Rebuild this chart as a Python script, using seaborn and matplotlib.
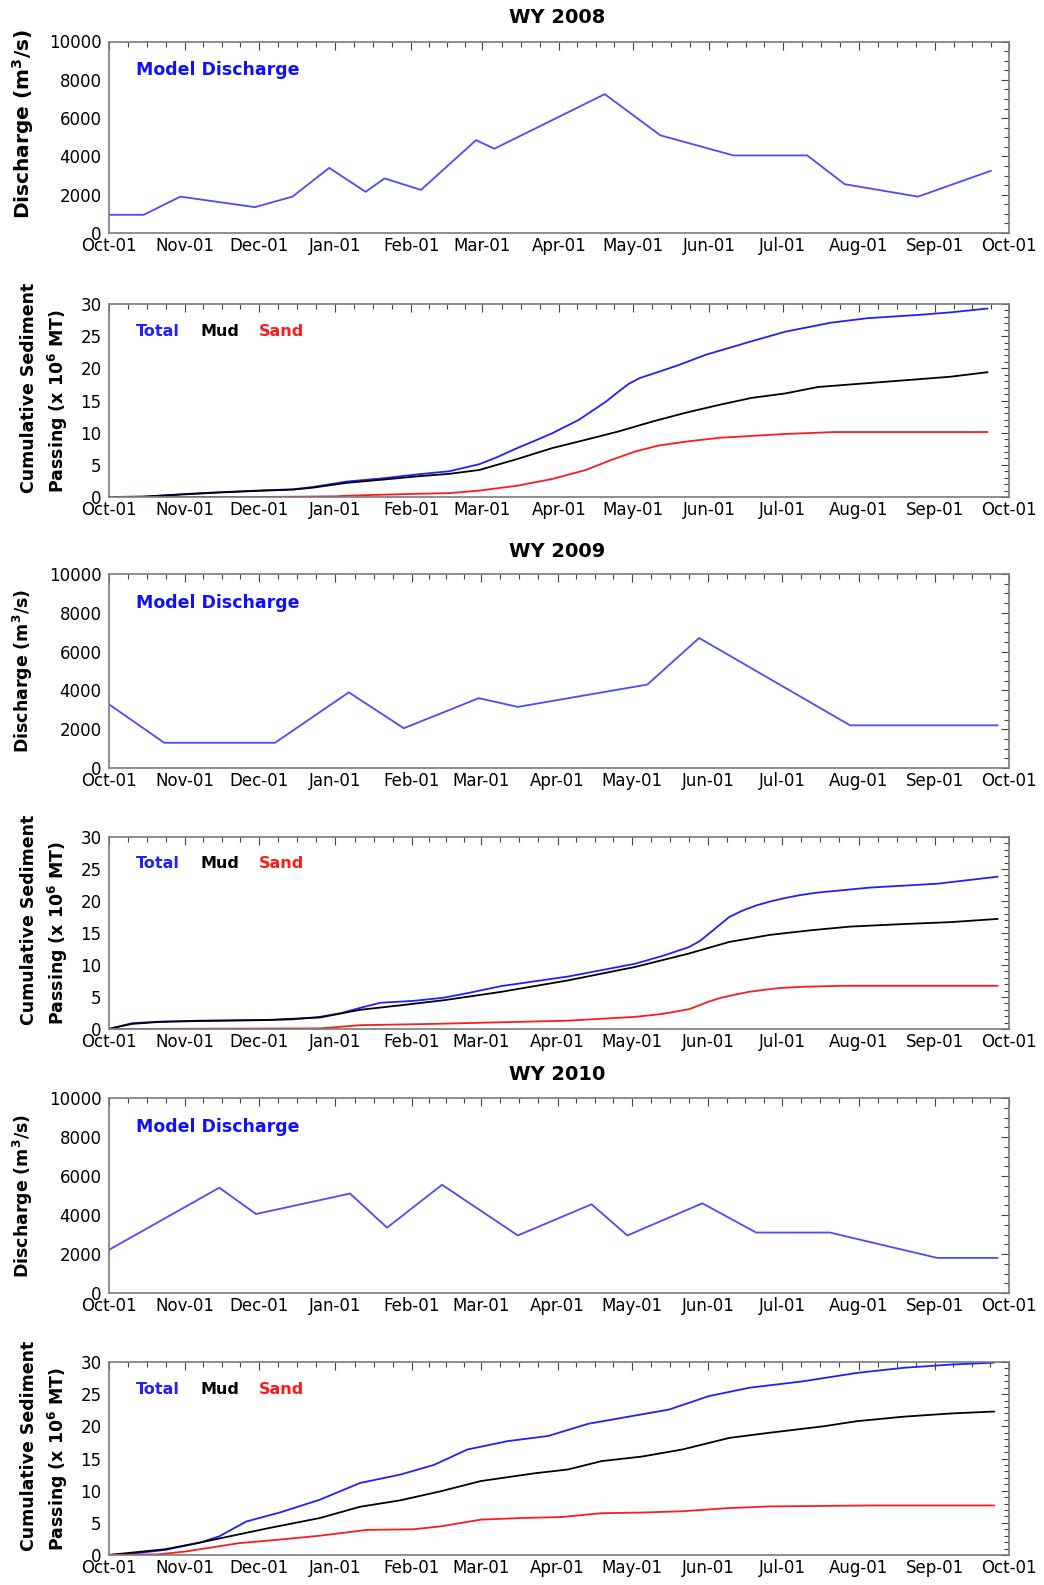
import numpy as np
import pandas as pd
import matplotlib
matplotlib.use("Agg")
import matplotlib.pyplot as plt
import matplotlib.dates as mdates
from matplotlib.ticker import MultipleLocator, FixedLocator
import seaborn as sns

# ---------------- data (day offsets from Oct 1 of each water year) ----------------
wy_names = ["WY 2008", "WY 2009", "WY 2010"]
wy_starts = ["2007-10-01", "2008-10-01", "2009-10-01"]

# Model discharge (m3/s)
q08_day = [0, 14.3, 29.2, 59.5, 74.8, 89.7, 104.5, 112.2, 127, 149.4, 156.8, 201.7, 224.3, 254, 284, 299.2, 329, 358.7]
q08_val = [950, 950, 1900, 1350, 1900, 3400, 2150, 2850, 2250, 4850, 4400, 7250, 5100, 4050, 4050, 2550, 1900, 3250]
q09_day = [0, 22.6, 67.5, 97.4, 119.7, 150.1, 165.9, 218.4, 239.4, 300.6, 360.4]
q09_val = [3300, 1300, 1300, 3900, 2050, 3600, 3150, 4300, 6700, 2200, 2200]
q10_day = [0, 44.9, 59.8, 97.9, 112.9, 135.2, 165.9, 195.8, 210.3, 240.7, 262.5, 292.4, 335.9, 360.4]
q10_val = [2200, 5400, 4050, 5100, 3350, 5550, 2950, 4550, 2950, 4600, 3100, 3100, 1800, 1800]

# Cumulative sediment (x 1e6 MT)
tot08_day = [0, 14.2, 30.4, 45.4, 60.4, 75, 83, 96.8, 111.4, 125.2, 138.5, 150.7, 158, 166.1, 173, 180.3, 191.2,
             202.1, 207, 211.5, 216, 220.8, 231.7, 242.7, 261.3, 275.1, 293.7, 308.7, 329, 342.3, 357.3]
tot08_val = [0, 0.05, 0.45, 0.75, 1.0, 1.2, 1.55, 2.4, 2.9, 3.5, 4.0, 5.1, 6.2, 7.6, 8.7, 9.9, 12.0,
             14.8, 16.3, 17.6, 18.5, 19.1, 20.5, 22.1, 24.2, 25.7, 27.1, 27.8, 28.3, 28.7, 29.3]
mud08_day = [0, 14.2, 30.4, 45.4, 60.4, 75, 83, 96.8, 111.4, 125.2, 138.5, 150.7, 166.1, 180.3, 194,
             207.4, 220.8, 234.6, 248, 261.3, 275.1, 288.4, 301.8, 329, 342.3, 357.3]
mud08_val = [0, 0.05, 0.4, 0.7, 0.95, 1.15, 1.45, 2.2, 2.7, 3.2, 3.6, 4.2, 5.9, 7.6, 8.9,
             10.2, 11.7, 13.1, 14.3, 15.4, 16.1, 17.1, 17.5, 18.3, 18.7, 19.4]
snd08_day = [0, 60, 92, 96.8, 125.2, 138.5, 150.7, 166.1, 180.3, 194, 204.6, 214.3, 223.6, 234.6,
             248, 275.1, 295.3, 357.3]
snd08_val = [0, 0.0, 0.1, 0.2, 0.5, 0.6, 1.0, 1.75, 2.8, 4.2, 5.8, 7.1, 8.0, 8.6,
             9.2, 9.8, 10.1, 10.1]

tot09_day = [0, 9.5, 20.4, 36.7, 63.9, 74.8, 85.7, 93.8, 102, 110.2, 123.8, 136, 145.5, 159.1, 186.3,
             213.5, 224.4, 235.3, 239.5, 243.4, 247.5, 251.6, 257, 262.5, 268, 273.4, 280, 287, 308.7, 335.9, 360.4]
tot09_val = [0, 0.9, 1.15, 1.3, 1.4, 1.5, 1.9, 2.45, 3.3, 4.1, 4.4, 4.9, 5.6, 6.7, 8.2,
             10.2, 11.4, 12.8, 13.7, 14.9, 16.2, 17.5, 18.5, 19.3, 19.9, 20.4, 20.9, 21.3, 22.1, 22.7, 23.8]
mud09_day = [0, 9.5, 20.4, 36.7, 63.9, 85.7, 102, 118.3, 136, 159.1, 186.3, 213.5, 235.3, 251.6,
             268, 284, 300.6, 322.3, 341.4, 360.4]
mud09_val = [0, 0.8, 1.1, 1.25, 1.4, 1.8, 3.0, 3.7, 4.5, 5.8, 7.6, 9.7, 11.8, 13.6,
             14.7, 15.4, 16.0, 16.4, 16.7, 17.2]
snd09_day = [0, 85.7, 91, 102, 132, 159, 186, 213.5, 224.4, 235.3, 239.5, 243.4, 248.5, 254.3, 259.5,
             265.2, 272, 281.5, 297.8, 360.4]
snd09_val = [0, 0.1, 0.25, 0.6, 0.8, 1.05, 1.3, 1.9, 2.35, 3.1, 3.7, 4.3, 4.9, 5.4, 5.8,
             6.1, 6.4, 6.6, 6.75, 6.75]

tot10_day = [0, 9.5, 23.1, 36.7, 44.9, 55.8, 69.4, 85.7, 102, 118.3, 131.9, 145.5, 161.8, 178.2,
             194.5, 210.8, 227.1, 243.4, 259.8, 281.5, 303.3, 322.3, 341.4, 359]
tot10_val = [0, 0.2, 0.8, 1.9, 2.9, 5.2, 6.6, 8.6, 11.2, 12.5, 14.0, 16.4, 17.7, 18.5,
             20.4, 21.5, 22.6, 24.7, 26.0, 27.0, 28.3, 29.1, 29.6, 29.9]
mud10_day = [0, 23.1, 36.7, 50.3, 63.9, 85.7, 102, 118.3, 134.6, 151, 172.7, 186.3, 199.9, 216.2,
             232.6, 251.6, 267.9, 289.7, 303.3, 322.3, 341.4, 359]
mud10_val = [0, 0.9, 1.9, 3.0, 4.1, 5.75, 7.5, 8.5, 9.9, 11.5, 12.7, 13.3, 14.6, 15.3,
             16.4, 18.2, 19.0, 20.0, 20.8, 21.5, 22.0, 22.3]
snd10_day = [0, 20.4, 31.3, 42.2, 53, 69.4, 85.7, 104.7, 123.8, 134.6, 151, 167.3, 183.6, 199.9,
             216.2, 232.6, 251.6, 267.9, 308.7, 359]
snd10_val = [0, 0.1, 0.55, 1.2, 1.85, 2.4, 3.0, 3.9, 4.0, 4.45, 5.5, 5.75, 5.9, 6.5,
             6.6, 6.8, 7.3, 7.55, 7.7, 7.7]

discharge = [(q08_day, q08_val), (q09_day, q09_val), (q10_day, q10_val)]
sediment = [
    [(tot08_day, tot08_val), (mud08_day, mud08_val), (snd08_day, snd08_val)],
    [(tot09_day, tot09_val), (mud09_day, mud09_val), (snd09_day, snd09_val)],
    [(tot10_day, tot10_val), (mud10_day, mud10_val), (snd10_day, snd10_val)],
]
sed_names = ["Total", "Mud", "Sand"]

# ---------------- style ----------------
sns.set_theme(style="white")
plt.rcParams["font.family"] = ["DejaVu Sans"]
plt.rcParams["mathtext.default"] = "bf"
plt.rcParams["text.color"] = "black"

W, H = 1044, 1585
fig = plt.figure(figsize=(W / 100, H / 100), dpi=100)

BLUE_Q = "#4a4aff"
BLUE = "#1f1fff"
RED = "#ff1a1a"
SPINE = "#7a7a7a"
sed_colors = [BLUE, "black", RED]

# panel frames in pixels (top, bottom)
frames = [(41.5, 233), (304, 497), (574, 768), (837, 1029), (1098, 1293), (1362, 1555)]
title_y = [17.5, 552, 1075]
xl, xr = 108.5, 1009


def to_dates(start, days):
    return pd.Timestamp(start) + pd.to_timedelta(np.asarray(days, dtype=float), unit="D")


def style_axis(ax, start, ymax, ymajor, yminor):
    s = pd.Timestamp(start)
    e = s + pd.DateOffset(years=1)
    ax.set_xlim(s, e)
    ax.set_ylim(0, ymax)
    months = pd.date_range(s, e, freq="MS")
    mnum = mdates.date2num(months)
    minors = []
    for a, b in zip(mnum[:-1], mnum[1:]):
        minors += [a + k * (b - a) / 4 for k in (1, 2, 3)]
    ax.xaxis.set_major_locator(FixedLocator(mnum))
    ax.xaxis.set_minor_locator(FixedLocator(minors))
    ax.xaxis.set_major_formatter(mdates.DateFormatter("%b-%d"))
    ax.yaxis.set_major_locator(MultipleLocator(ymajor))
    ax.yaxis.set_minor_locator(MultipleLocator(yminor))
    ax.tick_params(which="both", direction="in", top=True, right=True,
                   color="#444444", width=0.8, labelsize=12, labelcolor="black")
    ax.tick_params(which="major", length=5.5)
    ax.tick_params(which="minor", length=3.5)
    ax.tick_params(axis="x", pad=3)
    ax.tick_params(axis="y", pad=5)
    for sp in ax.spines.values():
        sp.set_visible(True)
        sp.set_color(SPINE)
        sp.set_linewidth(1.2)
    ax.set_xlabel("")
    ax.set_ylabel("")


for i in range(3):
    start = wy_starts[i]
    # discharge panel
    t, b = frames[2 * i]
    ax = fig.add_axes([xl / W, 1 - b / H, (xr - xl) / W, (b - t) / H])
    d, v = discharge[i]
    sns.lineplot(x=to_dates(start, d), y=v, ax=ax, color=BLUE_Q, lw=1.3)
    style_axis(ax, start, 10000, 2000, 500)
    ax.text(0.030, 0.850, "Model Discharge", transform=ax.transAxes, color="#1010ff",
            fontsize=12.5, fontweight="bold", ha="left", va="center")
    lab_size = 14.5 if i == 0 else 12.5
    lab_y = 0.57 if i == 0 else 0.5
    ax.text((23 - xl) / (xr - xl), lab_y, "Discharge (m$^3$/s)", transform=ax.transAxes,
            rotation=90, ha="center", va="center", fontsize=lab_size, fontweight="bold")
    fig.text(557 / W, 1 - title_y[i] / H, wy_names[i], ha="center", va="center",
             fontsize=14, fontweight="bold", color="black")

    # sediment panel
    t, b = frames[2 * i + 1]
    ax = fig.add_axes([xl / W, 1 - b / H, (xr - xl) / W, (b - t) / H])
    for (d, v), c in zip(sediment[i], sed_colors):
        sns.lineplot(x=to_dates(start, d), y=v, ax=ax, color=c, lw=1.3)
    style_axis(ax, start, 30, 5, 1)
    leg_x = [0.030, 0.102, 0.167]
    for name, c, lx in zip(sed_names, sed_colors, leg_x):
        ax.text(lx, 0.86, name, transform=ax.transAxes, color=c, fontsize=11.5,
                fontweight="bold", ha="left", va="center")
    base = 4.0 / (b - t)
    ax.text((29.5 - xl) / (xr - xl), base, "Cumulative Sediment", transform=ax.transAxes,
            rotation=90, rotation_mode="anchor", ha="left", va="center",
            fontsize=12.5, fontweight="bold")
    ax.text((58 - xl) / (xr - xl), base, "Passing (x 10$^6$ MT)", transform=ax.transAxes,
            rotation=90, rotation_mode="anchor", ha="left", va="center",
            fontsize=12.5, fontweight="bold")

fig.savefig("out.png", dpi=100)
